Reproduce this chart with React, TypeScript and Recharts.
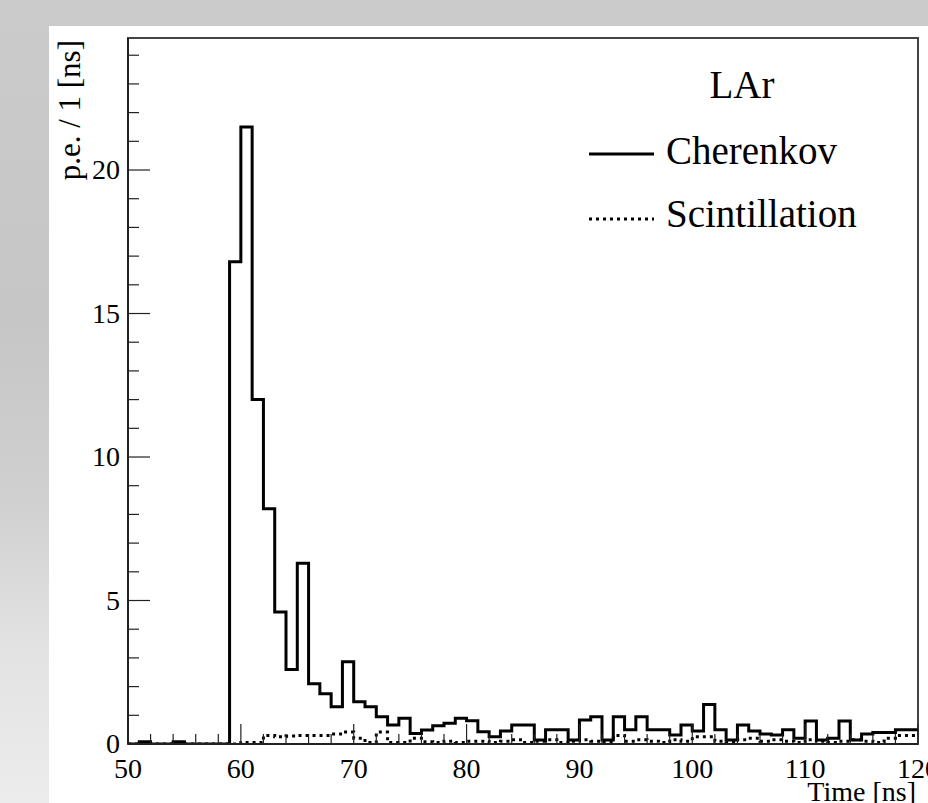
import { ComposedChart, Line, XAxis, YAxis, ReferenceArea, Legend, Label } from "recharts";

const SERIF = '"Liberation Serif", "Times New Roman", serif';

// 1 ns bins, first bin edge at 50 ns
const BIN_START = 50;
const cherenkov = [
  0, 0.08, 0, 0, 0.08, 0, 0, 0, 0, 16.8,
  21.5, 12.0, 8.2, 4.6, 2.6, 6.3, 2.1, 1.75, 1.3, 2.87,
  1.47, 1.3, 0.95, 0.66, 0.9, 0.37, 0.49, 0.64, 0.72, 0.9,
  0.81, 0.43, 0.25, 0.45, 0.66, 0.66, 0.14, 0.5, 0.5, 0.14,
  0.84, 0.95, 0.14, 0.95, 0.5, 0.95, 0.5, 0.5, 0.31, 0.66,
  0.45, 1.38, 0.5, 0.14, 0.66, 0.45, 0.35, 0.31, 0.5, 0.2,
  0.8, 0.14, 0.2, 0.8, 0.14, 0.35, 0.4, 0.4, 0.5, 0.5,
];
const scintillation = [
  0, 0, 0, 0, 0, 0, 0, 0, 0, 0,
  0.05, 0.05, 0.3, 0.25, 0.28, 0.3, 0.3, 0.3, 0.35, 0.42,
  0.2, 0.05, 0.42, 0.05, 0.05, 0.2, 0.08, 0.05, 0.1, 0.05,
  0.1, 0.1, 0.05, 0.1, 0.15, 0.05, 0.1, 0.15, 0.05, 0.1,
  0.15, 0.1, 0.05, 0.3, 0.1, 0.15, 0.1, 0.05, 0.15, 0.1,
  0.25, 0.25, 0.1, 0.05, 0.15, 0.2, 0.1, 0.15, 0.1, 0.05,
  0.15, 0.1, 0.05, 0.1, 0.15, 0.1, 0.05, 0.2, 0.3, 0.3,
];
const xTicks = [50, 52, 54, 56, 58, 60, 62, 64, 66, 68, 70, 72, 74, 76, 78, 80, 82, 84, 86, 88, 90, 92, 94, 96, 98, 100, 102, 104, 106, 108, 110, 112, 114, 116, 118, 120];
const yTicks = [0, 1, 2, 3, 4, 5, 6, 7, 8, 9, 10, 11, 12, 13, 14, 15, 16, 17, 18, 19, 20, 21, 22, 23, 24];
const X_MAX = 120;
const Y_MAX = 24.6;

// step line needs a closing point at the last bin edge
const data = [...cherenkov, cherenkov[cherenkov.length - 1]].map((c, i) => ({
  t: BIN_START + i,
  cherenkov: c,
  scintillation: scintillation[Math.min(i, scintillation.length - 1)],
}));

function XTick({ x, y, payload }: any) {
  const major = payload.value % 10 === 0;
  return (
    <g>
      <line x1={x} x2={x} y1={y} y2={y - (major ? 20 : 10)} stroke="#222" strokeWidth={1.2} />
      {major && (
        <text x={x} y={y + 34} textAnchor="middle" fontSize={28} fontFamily={SERIF} fill="#000">
          {payload.value}
        </text>
      )}
    </g>
  );
}

function YTick({ x, y, payload }: any) {
  const major = payload.value % 5 === 0;
  return (
    <g>
      <line x1={x} x2={x + (major ? 22 : 11)} y1={y} y2={y} stroke="#222" strokeWidth={1.2} />
      {major && (
        <text x={x - 8} y={y + 9} textAnchor="end" fontSize={28} fontFamily={SERIF} fill="#000">
          {payload.value}
        </text>
      )}
    </g>
  );
}

function XTitle({ viewBox }: any) {
  const { x, y, width } = viewBox;
  return (
    <text x={x + width - 2} y={y + 57} textAnchor="end" fontSize={28} fontFamily={SERIF} fill="#000">
      Time [ns]
    </text>
  );
}

function YTitle({ viewBox }: any) {
  const { y } = viewBox;
  const tx = 80;
  const ty = y + 2;
  return (
    <text x={tx} y={ty} transform={`rotate(-90, ${tx}, ${ty})`} textAnchor="end" fontSize={31} fontFamily={SERIF} fill="#000">
      p.e. / 1 [ns]
    </text>
  );
}

function LegendBox({ payload }: any) {
  const items = payload || [];
  return (
    <svg width={340} height={190} style={{ display: "block" }}>
      <text x={162} y={38} textAnchor="middle" fontSize={39} fontFamily={SERIF} fill="#000">
        LAr
      </text>
      {items.map((entry: any, i: number) => {
        const ly = 94 + i * 65;
        const dash = entry.payload?.strokeDasharray;
        return (
          <g key={entry.value}>
            <line x1={9} x2={74} y1={ly} y2={ly} stroke="#000" strokeWidth={3} strokeDasharray={dash} />
            <text x={86} y={ly + 10 - i * 2} fontSize={39} fontFamily={SERIF} fill="#000">
              {entry.value}
            </text>
          </g>
        );
      })}
    </svg>
  );
}

export default function App() {
  return (
    <div style={{ position: "absolute", left: 0, top: 0, width: 928, height: 803, overflow: "hidden", background: "linear-gradient(180deg, #cbcbcb 0%, #c6c6c6 40%, #d0d0d0 62%, #e2e2e2 80%, #ececec 100%)" }}>
      <div style={{ position: "absolute", left: 49, top: 26, right: 0, bottom: 0, background: "#fff" }} />
      <div style={{ position: "absolute", left: 0, top: 0 }}>
        <ComposedChart width={928} height={803} data={data} margin={{ top: 38, right: 10, bottom: 0, left: 0 }}>
          <XAxis
            dataKey="t"
            type="number"
            domain={[BIN_START, X_MAX]}
            ticks={xTicks}
            interval={0}
            allowDataOverflow
            height={59}
            tickLine={false}
            tickSize={0}
            tickMargin={0}
            axisLine={{ stroke: "#222", strokeWidth: 2 }}
            tick={<XTick />}
          >
            <Label content={<XTitle />} />
          </XAxis>
          <YAxis
            type="number"
            domain={[0, Y_MAX]}
            ticks={yTicks}
            interval={0}
            allowDataOverflow
            width={128}
            tickLine={false}
            tickSize={0}
            tickMargin={0}
            axisLine={{ stroke: "#222", strokeWidth: 2 }}
            tick={<YTick />}
          >
            <Label content={<YTitle />} />
          </YAxis>
          <ReferenceArea x1={BIN_START} x2={X_MAX} y1={0} y2={Y_MAX} fill="none" stroke="#444" strokeWidth={2} fillOpacity={0} />
          <Line
            name="Cherenkov"
            dataKey="cherenkov"
            type="stepAfter"
            stroke="#000"
            strokeWidth={3}
            dot={false}
            activeDot={false}
            isAnimationActive={false}
          />
          <Line
            name="Scintillation"
            dataKey="scintillation"
            type="stepAfter"
            stroke="#000"
            strokeWidth={3}
            strokeDasharray="3 4"
            dot={false}
            activeDot={false}
            isAnimationActive={false}
          />
          <Legend
            layout="vertical"
            align="center"
            verticalAlign="middle"
            content={<LegendBox />}
            wrapperStyle={{ left: 580, top: 60, width: 340, height: 190 }}
          />
        </ComposedChart>
      </div>
    </div>
  );
}
